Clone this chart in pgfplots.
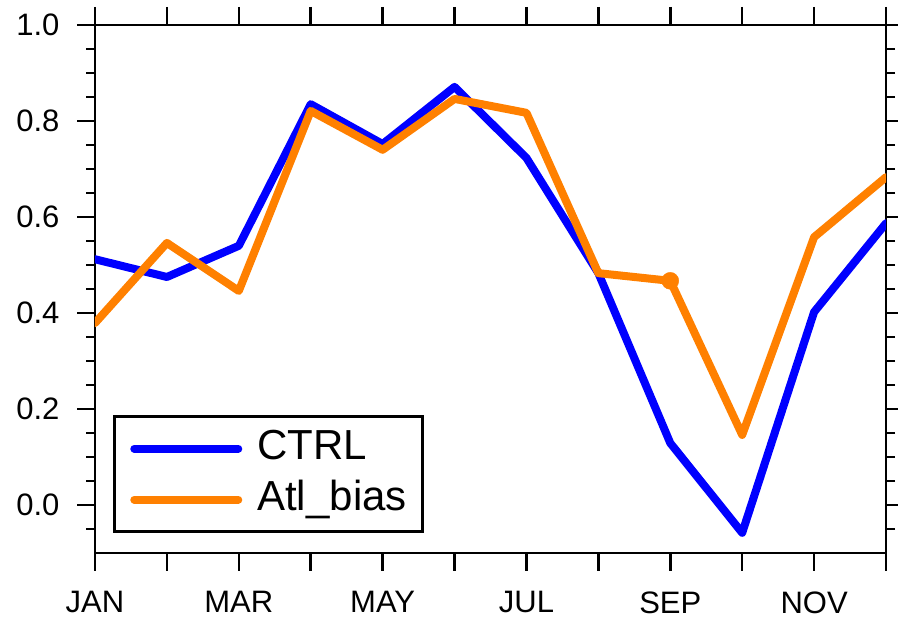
\documentclass[border=0pt]{standalone}
\usepackage{fontspec}
\setmainfont{Liberation Sans}
\usepackage{pgfplots}
\pgfplotsset{compat=1.18}
\usetikzlibrary{calc}
\definecolor{ctrlblue}{RGB}{0,0,255}
\definecolor{atlorange}{RGB}{255,128,0}

\begin{document}
\begin{tikzpicture}
\begin{axis}[
  name=main,
  scale only axis, width=791pt, height=528pt,
  xmin=0, xmax=11, ymin=-0.1, ymax=1.0,
  axis line style={line width=2.5pt},
  every tick/.style={line width=2.5pt, black},
  tick align=outside,
  major tick length=18pt, minor tick length=9pt,
  xtick={0,1,2,3,4,5,6,7,8,9,10,11},
  xticklabels={JAN,,MAR,,MAY,,JUL,,SEP,,NOV,},
  ytick={0,0.2,0.4,0.6,0.8,1.0},
  minor ytick={-0.05,0.05,0.1,0.15,0.25,0.3,0.35,0.45,0.5,0.55,0.65,0.7,0.75,0.85,0.9,0.95},
  yticklabel style={xshift=-14pt, /pgf/number format/.cd, fixed, fixed zerofill, precision=1},
  xticklabel style={yshift=-17pt},
  /pgf/number format/assume math mode=true,
  tick label style={font=\fontsize{31}{36}\selectfont},
  legend style={at={(rel axis cs:0.0228,0.0379)}, anchor=south west,
    draw=black, line width=2.5pt, font=\fontsize{42}{48}\selectfont,
    inner xsep=16pt, inner ysep=8pt, row sep=3pt,
    nodes={inner xsep=0pt, inner ysep=3pt, text height=32pt, text depth=10pt},
    cells={anchor=west}},
  legend image code/.code={
    \path[draw=none] (0pt,0pt) -- (127pt,0pt);
    \draw[#1, line cap=round] (4pt,0pt) -- (108pt,0pt);},
]
% CTRL experiment
\addplot[ctrlblue, line width=8pt, line join=round, line cap=round] coordinates {
  (0,0.512) (1,0.475) (2,0.540) (3,0.835) (4,0.752) (5,0.871)
  (6,0.723) (7,0.483) (8,0.129) (9,-0.058) (10,0.402) (11,0.587)
};
\addlegendentry{CTRL}
% Atlantic bias experiment
\addplot[atlorange, line width=8pt, line join=round, line cap=round] coordinates {
  (0,0.379) (1,0.546) (2,0.446) (3,0.821) (4,0.740) (5,0.846)
  (6,0.817) (7,0.483) (8,0.467) (9,0.146) (10,0.558) (11,0.683)
};
\addlegendentry{Atl\_bias}
\addplot[atlorange, only marks, mark=*, mark size=8.5pt, forget plot] coordinates {(8,0.467)};
\end{axis}
% fixed page frame around the plot box
\pgfresetboundingbox
\path ($(main.south west)+(-95pt,-69pt)$) rectangle ($(main.north east)+(12pt,25pt)$);
\end{tikzpicture}
\end{document}
